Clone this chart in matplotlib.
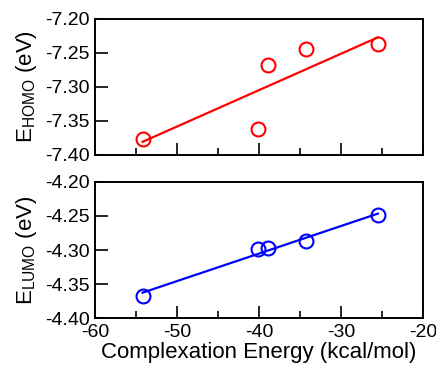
import numpy as np
import matplotlib
matplotlib.use("Agg")
import matplotlib.pyplot as plt
from matplotlib.ticker import MultipleLocator, FormatStrFormatter

plt.rcParams['font.family'] = ['Liberation Sans', 'DejaVu Sans']
plt.rcParams['mathtext.default'] = 'regular'
plt.rcParams['axes.unicode_minus'] = False

complexation_energy = [-54.2, -40.1, -38.95, -34.3, -25.5]
e_homo = [-7.376, -7.362, -7.267, -7.244, -7.237]
e_lumo = [-4.367, -4.298, -4.297, -4.287, -4.249]

fig = plt.figure(figsize=(4.36, 3.67), dpi=100)
ax1 = fig.add_axes([0.2179, 0.5777, 0.7523, 0.3706])
ax2 = fig.add_axes([0.2179, 0.1335, 0.7523, 0.3706])

def style(ax, ylim, color, y, ylabel):
    x = np.array(complexation_energy)
    yy = np.array(y)
    ax.plot(x, yy, linestyle='none', marker='o', markersize=10,
            markerfacecolor='none', markeredgecolor=color, markeredgewidth=1.5, zorder=3)
    k, b = np.polyfit(x, yy, 1)
    xs = np.array([x.min(), x.max()])
    ax.plot(xs, k * xs + b, color=color, linewidth=1.6, zorder=2)
    ax.set_xlim(-60, -20)
    ax.set_ylim(*ylim)
    ax.xaxis.set_major_locator(MultipleLocator(10))
    ax.xaxis.set_minor_locator(MultipleLocator(5))
    ax.yaxis.set_major_locator(MultipleLocator(0.05))
    ax.yaxis.set_major_formatter(FormatStrFormatter('%.2f'))
    ax.tick_params(axis='both', which='major', direction='in', length=9, width=1.2,
                   labelsize=14, top=False, right=False, pad=4)
    ax.tick_params(axis='x', which='minor', direction='in', length=5, width=1.2,
                   top=False)
    for sp in ax.spines.values():
        sp.set_linewidth(1.4)
    ax.set_ylabel(ylabel, fontsize=16, labelpad=4)

style(ax1, (-7.40, -7.20), '#ff0000', e_homo, r'E$_{HOMO}$ (eV)')
style(ax2, (-4.40, -4.20), '#0000ff', e_lumo, r'E$_{LUMO}$ (eV)')
ax1.tick_params(axis='x', labelbottom=False)
ax2.set_xlabel('Complexation Energy (kcal/mol)', fontsize=16, labelpad=1)

fig.savefig('out.png', dpi=100)
